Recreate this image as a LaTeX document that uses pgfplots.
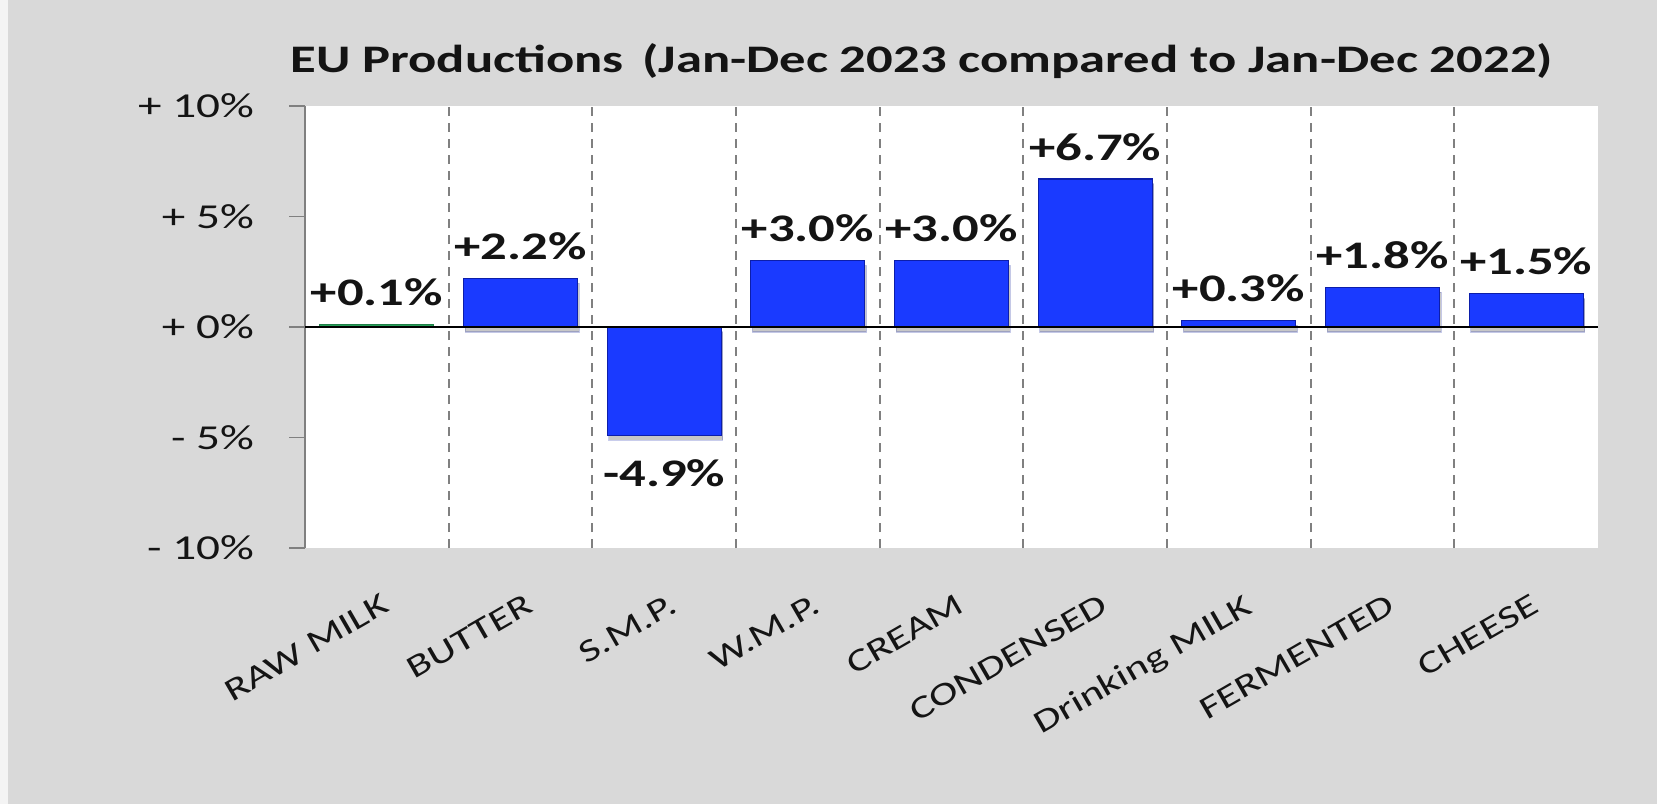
\documentclass[border=0pt]{standalone}
\usepackage{fontspec}
\setmainfont{Carlito}[FakeStretch=1.35]
\usepackage{pgfplots}
\pgfplotsset{compat=1.18}
\usetikzlibrary{shadows}
\definecolor{clrBg}{RGB}{217,217,217}
\definecolor{clrBar}{RGB}{26,58,255}
\definecolor{clrBarEdge}{RGB}{12,30,170}
\definecolor{clrRaw}{RGB}{40,160,90}
\definecolor{clrGrid}{RGB}{128,128,128}
\definecolor{clrTxt}{RGB}{20,20,20}

\begin{document}
\begin{tikzpicture}
\path[use as bounding box] (0,0) rectangle (828.5pt,402pt);
\fill[clrBg] (0,0) rectangle (828.5pt,402pt);
\fill[white!70!clrBg] (0,0) rectangle (4pt,402pt);
\begin{axis}[
  at={(152.5pt,128pt)}, anchor=south west,
  scale only axis, width=646.5pt, height=221pt,
  axis background/.style={fill=white},
  xmin=-0.5, xmax=8.5, ymin=-10, ymax=10,
  xtick={0,...,8},
  xticklabels={RAW MILK,BUTTER,S.M.P.,W.M.P.,CREAM,CONDENSED,Drinking MILK,FERMENTED,CHEESE},
  minor xtick={0.5,1.5,...,7.5},
  xminorgrids=true,
  minor grid style={clrGrid,line width=0.9pt,dash pattern=on 4.5pt off 3.5pt},
  ytick={-10,-5,0,5,10},
  yticklabels={- 10\%\kern14pt,- 5\%\kern14pt,+ 0\%\kern14pt,+ 5\%\kern14pt,+ 10\%\kern14pt},
  axis lines*=left,
  x axis line style={draw=none},
  y axis line style={clrGrid,line width=0.8pt},
  tick align=outside,
  xtick style={draw=none},
  minor tick length=0pt,
  ytick style={clrGrid,line width=0.8pt},
  major tick length=8pt,
  yticklabel style={font=\fontsize{17.5}{19}\selectfont,text=clrTxt},
  xticklabel style={font=\fontsize{16}{18}\selectfont,text=clrTxt,rotate=30,anchor=north east,xshift=-2pt,yshift=-10pt},
  title={EU Productions\, (Jan-Dec 2023 compared to Jan-Dec 2022)},
  title style={font=\bfseries\fontsize{19.5}{22}\selectfont,text=clrTxt,at={(0.477,1)},anchor=base,yshift=10.5pt},
  ybar, bar width=57pt, bar shift=0pt,
  point meta=explicit symbolic,
  nodes near coords={\pgfplotspointmeta\%},
  every node near coord/.append style={font=\bfseries\fontsize{19.5}{22}\selectfont,text=clrTxt,inner sep=9pt},
  clip=false,
]
\addplot[fill=clrRaw,draw=clrRaw!80!black,line width=0.6pt] coordinates {(0,0.1) [+0.1]};
\addplot[fill=clrBar,draw=clrBarEdge,line width=0.6pt,
  drop shadow={shadow xshift=0.8pt,shadow yshift=-2.5pt,opacity=0.22,fill=black}] coordinates {
  (1,2.2) [+2.2] (3,3.0) [+3.0] (4,3.0) [+3.0]
  (5,6.7) [+6.7] (6,0.3) [+0.3] (7,1.8) [+1.8] (8,1.5) [+1.5]
};
\addplot[fill=clrBar,draw=clrBarEdge,line width=0.6pt,
  drop shadow={shadow xshift=0.8pt,shadow yshift=-2.5pt,opacity=0.22,fill=black},
  nodes near coords style={anchor=north,inner sep=12pt}] coordinates {
  (2,-4.9) [-4.9]
};
\draw[black,line width=1.3pt] (rel axis cs:0,0.5) -- (rel axis cs:1,0.5);
\end{axis}
\end{tikzpicture}
\end{document}
